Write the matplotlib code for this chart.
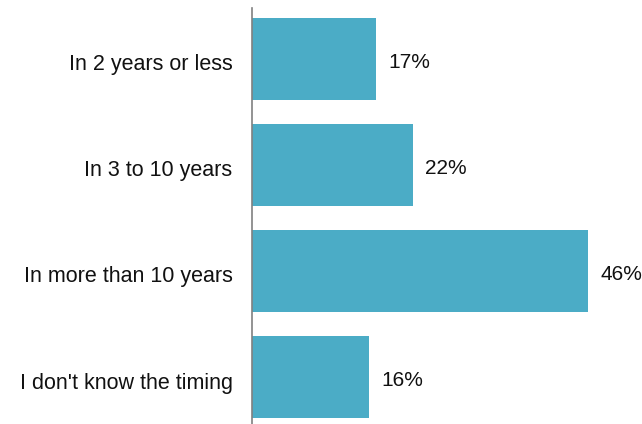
import matplotlib.pyplot as plt
import matplotlib.transforms as mtransforms

categories = ['In 2 years or less', 'In 3 to 10 years',
              'In more than 10 years', "I don't know the timing"]
values = [17, 22, 46, 16]

plt.rcParams['font.family'] = ['Liberation Sans', 'DejaVu Sans']

fig = plt.figure(figsize=(6.42, 4.24), dpi=100)
ax = fig.add_axes([252 / 642, 0, 368 / 642, 416 / 424])

pos = list(range(len(categories)))
ax.barh(pos, values, height=0.774, color='#4BACC6')

for p, v in zip(pos, values):
    ax.annotate(f'{v}%', (v, p), xytext=(9, -2.5), textcoords='offset points',
                va='center', ha='left', fontsize=15, color='#111111')

ax.set_xlim(0, 50.4)
ax.set_ylim(3.443, -0.481)
ax.set_yticks(pos)
ax.set_yticklabels(categories, fontsize=15.5, color='#111111')
ax.tick_params(axis='y', length=0, pad=14)
ax.set_xticks([])

# nudge the category labels down a little
shift = mtransforms.ScaledTranslation(0, -2.5 / 72, fig.dpi_scale_trans)
for lab in ax.get_yticklabels():
    lab.set_transform(lab.get_transform() + shift)

for s in ['top', 'right', 'bottom']:
    ax.spines[s].set_visible(False)
ax.spines['left'].set_color('#808080')
ax.spines['left'].set_linewidth(1.2)

fig.savefig('out.png', dpi=100)
